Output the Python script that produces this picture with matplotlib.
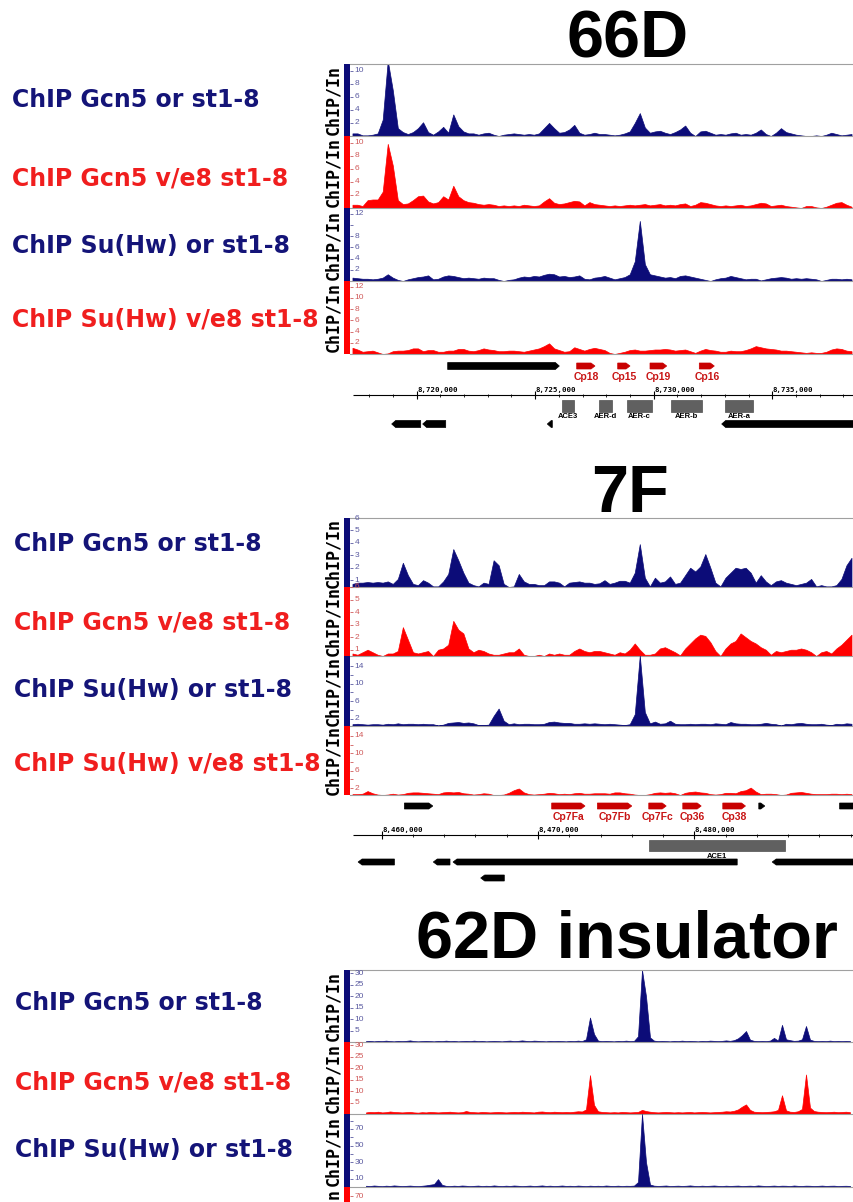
import numpy as np
import matplotlib
matplotlib.use("Agg")
import matplotlib.pyplot as plt
from matplotlib.patches import Polygon, Rectangle

W, H = 854, 1202
NAVY = "#0c0c78"
RED = "#ff0000"
NAVY_TXT = "#141478"
RED_TXT = "#f01e1e"
GENE_RED = "#c80000"

# ---------------- data: 66D (100 bins, ~212 bp each) ----------------
p1_start, p1_step = 8717290, 212.7
p1_xlim = (8717186, 8738451)
p1_gcn5_or = [0.4, 0.4, 0.1, 0.1, 0.2, 0.4, 2.5, 11.5, 7.0, 1.2,
              0.6, 0.3, 0.6, 1.2, 2.1, 0.6, 0.2, 0.7, 1.4, 0.5,
              3.3, 1.5, 0.7, 0.4, 0.4, 0.2, 0.4, 0.5, 0.2, 0.0,
              0.2, 0.3, 0.4, 0.3, 0.2, 0.3, 0.2, 0.4, 1.2, 2.0,
              1.2, 0.5, 0.6, 1.0, 1.7, 0.5, 0.2, 0.3, 0.5, 0.3,
              0.3, 0.2, 0.1, 0.2, 0.4, 0.7, 2.0, 3.5, 1.3, 0.5,
              0.7, 0.8, 0.5, 0.3, 0.6, 1.0, 1.6, 0.5, 0.0, 0.7,
              0.8, 0.5, 0.2, 0.3, 0.2, 0.4, 0.5, 0.2, 0.3, 0.2,
              0.5, 1.0, 0.3, 0.0, 0.5, 1.2, 0.6, 0.4, 0.2, 0.1,
              0.0, 0.0, 0.1, 0.0, 0.2, 0.5, 0.3, 0.1, 0.2, 0.3]
p1_gcn5_ve = [0.5, 0.5, 0.3, 1.2, 1.3, 1.3, 2.5, 9.8, 6.5, 1.2,
              0.6, 0.7, 1.2, 1.8, 1.9, 1.0, 0.7, 0.9, 1.8, 1.3,
              3.4, 1.8, 1.2, 0.9, 0.8, 0.6, 0.5, 0.6, 0.5, 0.3,
              0.4, 0.3, 0.4, 0.3, 0.5, 0.4, 0.3, 0.4, 1.0, 1.5,
              0.8, 0.6, 0.7, 0.9, 1.1, 1.0, 0.4, 0.9, 0.6, 0.5,
              0.4, 0.3, 0.4, 0.3, 0.4, 0.5, 0.4, 0.5, 0.6, 0.4,
              0.5, 0.6, 0.4, 0.5, 0.4, 0.6, 0.7, 0.3, 0.5, 0.9,
              0.8, 0.6, 0.4, 0.3, 0.4, 0.3, 0.4, 0.5, 0.3, 0.4,
              0.6, 0.8, 0.7, 0.3, 0.4, 0.5, 0.3, 0.2, 0.1, 0.0,
              0.3, 0.3, 0.1, 0.0, 0.2, 0.5, 0.8, 0.9, 0.5, 0.2]
p1_suhw_or = [0.6, 0.5, 0.4, 0.4, 0.3, 0.4, 0.6, 1.2, 0.6, 0.2,
              0.0, 0.3, 0.5, 0.7, 0.8, 1.0, 0.3, 0.4, 0.8, 1.0,
              0.9, 0.7, 0.5, 0.6, 0.5, 0.4, 0.6, 0.5, 0.5, 0.2,
              0.0, 0.2, 0.3, 0.6, 0.8, 0.7, 0.9, 0.8, 1.1, 1.3,
              1.2, 0.8, 0.9, 0.7, 0.8, 1.0, 0.4, 0.3, 0.6, 0.7,
              0.9, 0.6, 0.3, 0.5, 0.7, 1.2, 3.5, 10.7, 3.0, 1.2,
              1.0, 0.8, 0.6, 0.7, 0.5, 0.9, 1.0, 0.8, 0.6, 0.4,
              0.2, 0.0, 0.3, 0.5, 0.6, 0.9, 0.7, 0.5, 0.3, 0.4,
              0.4, 0.1, 0.3, 0.5, 0.6, 0.7, 0.6, 0.4, 0.5, 0.4,
              0.5, 0.4, 0.3, 0.0, 0.2, 0.4, 0.4, 0.3, 0.4, 0.3]
p1_suhw_ve = [1.1, 0.8, 0.4, 0.5, 0.6, 0.3, 0.0, 0.1, 0.5, 0.6,
              0.6, 0.7, 1.0, 1.0, 0.5, 0.7, 0.7, 0.4, 0.4, 0.6,
              0.6, 0.9, 0.9, 0.6, 0.5, 0.7, 1.0, 0.8, 0.7, 0.5,
              0.5, 0.6, 0.6, 0.5, 0.4, 0.6, 0.8, 1.0, 1.4, 1.9,
              1.0, 0.7, 0.4, 0.5, 1.2, 0.9, 0.6, 0.9, 1.1, 0.9,
              0.7, 0.2, 0.0, 0.2, 0.4, 0.7, 0.8, 0.6, 0.6, 0.7,
              0.8, 0.8, 0.9, 0.8, 0.6, 0.7, 0.8, 0.5, 0.2, 0.6,
              0.9, 0.7, 0.6, 0.4, 0.4, 0.6, 0.5, 0.5, 0.7, 1.0,
              1.4, 1.2, 1.0, 0.9, 0.8, 0.6, 0.6, 0.5, 0.4, 0.3,
              0.2, 0.3, 0.2, 0.2, 0.4, 0.8, 1.0, 0.9, 0.6, 0.5]

p1_top_black = [(8721308, 8726017, 1)]
p1_cp_names = ["Cp18", "Cp15", "Cp19", "Cp16"]
p1_cp_spans = [(8726751, 8727523), (8728481, 8729000), (8729844, 8730549), (8731924, 8732557)]
p1_box_names = ["ACE3", "AER-d", "AER-c", "AER-b", "AER-a"]
p1_box_spans = [(8726118, 8726637), (8727692, 8728228), (8728886, 8729916),
                (8730717, 8732051), (8733008, 8734203)]
p1_low_black = [(8718945, 8720169, -1), (8720253, 8721224, -1),
                (8725511, 8725722, -1), (8732869, 8739500, -1)]
p1_major = [8720000, 8725000, 8730000, 8735000]

# ---------------- data: 7F (100 bins, ~322 bp each) ----------------
p2_start, p2_step = 8458130, 322.5
p2_xlim = (8457972, 8490218)
p2_gcn5_or = [0.7, 0.8, 0.8, 0.85, 0.8, 0.85, 0.8, 0.9, 0.7, 1.1,
              2.4, 1.4, 0.7, 0.6, 1.0, 0.8, 0.5, 0.5, 0.9, 1.5,
              3.5, 2.6, 1.6, 0.8, 0.6, 0.5, 0.8, 0.7, 2.6, 2.2,
              0.7, 0.45, 0.5, 1.5, 0.9, 0.7, 0.7, 0.6, 0.6, 0.9,
              0.9, 0.8, 0.5, 0.8, 0.85, 0.9, 0.8, 0.8, 0.7, 0.75,
              1.0, 0.7, 0.8, 0.95, 0.95, 0.8, 1.6, 3.9, 1.2, 0.5,
              1.2, 0.8, 0.9, 1.3, 0.7, 0.8, 1.4, 2.0, 1.7, 2.1,
              3.1, 2.0, 0.8, 0.5, 1.2, 1.6, 2.0, 1.9, 2.0, 1.6,
              0.8, 1.4, 0.9, 0.6, 0.9, 1.0, 0.8, 0.7, 0.6, 0.7,
              0.8, 1.1, 0.5, 0.6, 0.5, 0.5, 0.6, 1.1, 2.2, 2.8]
p2_gcn5_ve = [0.7, 0.6, 0.8, 1.0, 0.8, 0.6, 0.5, 0.7, 0.7, 0.9,
              2.8, 1.8, 0.8, 0.7, 0.8, 0.9, 0.5, 1.0, 1.1, 1.4,
              3.3, 2.6, 2.3, 1.1, 0.8, 1.0, 0.9, 0.7, 0.6, 0.6,
              0.7, 0.8, 0.8, 1.1, 0.6, 0.5, 0.5, 0.6, 0.5, 0.7,
              0.6, 0.7, 0.6, 0.6, 0.9, 1.1, 0.9, 0.8, 0.9, 0.9,
              0.8, 0.7, 0.6, 0.8, 0.7, 1.0, 1.5, 1.0, 0.6, 0.6,
              0.7, 1.1, 1.2, 1.0, 0.8, 0.55, 1.1, 1.5, 1.9, 2.2,
              2.1, 1.6, 0.9, 0.5, 1.1, 1.5, 1.7, 2.3, 2.0, 1.7,
              1.5, 1.2, 1.0, 0.6, 0.9, 0.8, 0.9, 1.0, 1.0, 1.1,
              1.0, 0.8, 0.5, 0.8, 0.9, 0.7, 1.1, 1.4, 1.8, 2.2]
p2_suhw_or = [0.7, 0.8, 0.7, 0.6, 0.7, 0.7, 0.6, 0.8, 0.7, 0.9,
              0.7, 0.8, 0.8, 0.7, 0.8, 0.7, 0.7, 0.4, 0.6, 1.0,
              1.1, 1.2, 1.0, 1.1, 0.9, 0.5, 0.5, 0.6, 2.6, 4.3,
              1.5, 0.7, 0.9, 0.7, 0.8, 0.8, 0.7, 0.7, 0.8, 1.2,
              1.3, 1.1, 1.0, 1.0, 0.8, 0.8, 0.9, 0.8, 0.9, 0.8,
              0.7, 0.8, 0.7, 0.6, 0.5, 0.7, 3.0, 16.5, 3.5, 0.9,
              1.3, 0.8, 0.9, 1.5, 0.8, 0.7, 0.7, 0.8, 0.7, 0.8,
              0.8, 0.7, 0.9, 0.8, 0.7, 1.2, 0.9, 0.8, 0.8, 0.7,
              0.7, 0.8, 1.0, 0.8, 0.7, 0.4, 0.8, 0.7, 0.9, 1.0,
              0.8, 0.7, 0.7, 0.8, 0.6, 0.5, 0.8, 0.7, 0.9, 0.8]
p2_suhw_ve = [0.6, 0.6, 0.7, 1.3, 0.8, 0.5, 0.4, 0.5, 0.7, 0.5,
              0.6, 0.9, 1.0, 1.0, 0.9, 0.8, 0.7, 0.6, 1.0, 1.1,
              1.0, 1.1, 0.8, 0.7, 0.5, 0.6, 0.8, 0.7, 0.4, 0.4,
              0.5, 0.9, 1.5, 1.9, 1.0, 0.6, 0.5, 0.6, 0.7, 0.9,
              0.8, 0.6, 0.7, 0.6, 0.8, 0.9, 0.7, 0.7, 0.8, 0.8,
              0.8, 0.7, 1.0, 1.0, 0.8, 0.7, 0.5, 0.4, 0.4, 0.6,
              0.9, 1.0, 0.9, 1.0, 0.8, 0.4, 0.9, 1.1, 1.2, 1.0,
              0.9, 0.6, 0.5, 0.6, 0.9, 0.9, 0.8, 1.3, 1.5, 2.1,
              1.2, 0.6, 0.7, 0.7, 0.6, 0.4, 0.5, 0.9, 1.0, 1.1,
              0.9, 0.7, 0.6, 0.6, 0.6, 0.7, 0.7, 0.6, 0.7, 0.6]

p2_top_black = [(8461453, 8463269, 1), (8484127, 8484511, 1), (8489299, 8491000, 1)]
p2_cp_names = ["Cp7Fa", "Cp7Fb", "Cp7Fc", "Cp36", "Cp38"]
p2_cp_spans = [(8470876, 8473008), (8473800, 8476000), (8477087, 8478202),
               (8479264, 8480441), (8481823, 8483275)]
p2_box_names = ["ACE1"]
p2_box_spans = [(8477101, 8485783)]
p2_low_black = [(8458490, 8460813, -1), (8463301, 8464370, -1),
                (8464565, 8482745, -1), (8484984, 8491500, -1)]
p2_low2_black = [(8466334, 8467844, -1)]
p2_major = [8460000, 8470000, 8480000]

# ---------------- data: 62D insulator (122 bins) ----------------
p3_gcn5_or = [0.4, 0.5, 0.3, 0.5, 0.4, 0.6, 0.4, 0.3, 0.5, 0.4,
              0.5, 0.7, 0.4, 0.3, 0.4, 0.5, 0.4, 0.3, 0.5, 0.4,
              0.6, 0.4, 0.5, 0.3, 0.4, 0.5, 0.4, 0.6, 0.4, 0.5,
              0.3, 0.4, 0.5, 0.4, 0.3, 0.5, 0.6, 0.4, 0.5, 0.7,
              0.5, 0.4, 0.6, 0.5, 0.4, 0.3, 0.5, 0.4, 0.5, 0.4,
              0.3, 0.5, 0.4, 0.6, 0.4, 1.2, 10.7, 3.5, 0.6, 0.4,
              0.5, 0.4, 0.3, 0.5, 0.4, 0.6, 0.4, 0.5, 2.5, 31.5,
              20.0, 2.0, 0.6, 0.4, 0.5, 0.4, 0.3, 0.5, 0.4, 0.6,
              0.4, 0.5, 0.4, 0.3, 0.5, 0.4, 0.6, 0.5, 0.4, 0.5,
              0.7, 0.5, 0.8, 1.6, 3.0, 4.8, 1.0, 0.5, 0.4, 0.5,
              0.4, 0.6, 1.8, 0.6, 7.5, 1.2, 0.8, 0.5, 0.6, 1.2,
              7.0, 1.0, 0.5, 0.4, 0.5, 0.4, 0.6, 0.4, 0.5, 0.4,
              0.5, 0.4]
p3_gcn5_ve = [0.7, 0.9, 0.8, 1.0, 0.7, 0.8, 1.1, 0.9, 0.8, 0.7,
              0.8, 0.9, 0.7, 0.6, 0.8, 0.7, 0.9, 0.8, 0.7, 0.8,
              0.9, 1.0, 0.8, 0.7, 0.8, 1.3, 0.9, 0.8, 0.7, 0.9,
              0.8, 0.7, 0.8, 0.9, 0.8, 0.7, 0.8, 0.9, 0.8, 1.0,
              0.9, 0.8, 0.7, 1.0, 1.1, 0.9, 0.8, 1.0, 0.9, 0.8,
              0.9, 0.8, 1.0, 1.2, 1.1, 2.0, 17.0, 4.0, 1.2, 0.9,
              0.8, 0.7, 0.8, 0.7, 0.9, 0.8, 0.7, 0.8, 0.9, 1.8,
              1.3, 1.0, 0.8, 0.7, 0.8, 0.9, 0.8, 0.7, 0.8, 0.7,
              0.8, 0.9, 0.7, 0.8, 0.9, 0.8, 0.7, 0.8, 0.9, 1.0,
              1.2, 1.1, 1.4, 2.0, 3.2, 4.2, 1.8, 1.0, 0.9, 0.8,
              0.9, 1.0, 1.2, 1.8, 8.2, 1.6, 1.0, 0.9, 1.2, 2.2,
              17.3, 2.8, 1.3, 1.0, 0.9, 0.8, 0.9, 1.0, 0.8, 0.9,
              1.0, 0.8]
p3_suhw_or = [1.5, 1.2, 1.8, 1.4, 1.0, 1.6, 1.3, 1.9, 1.5, 1.2,
              1.4, 1.7, 1.3, 1.1, 1.5, 2.0, 2.8, 3.5, 9.5, 2.6,
              1.4, 1.2, 1.6, 1.3, 1.8, 1.5, 1.1, 1.4, 1.7, 1.2,
              1.5, 1.3, 1.9, 1.4, 1.2, 1.6, 1.3, 1.8, 1.5, 1.1,
              1.4, 1.7, 1.2, 1.5, 1.9, 1.3, 1.6, 1.2, 1.4, 1.8,
              1.3, 1.5, 1.2, 1.7, 1.4, 1.1, 1.6, 1.3, 1.5, 1.2,
              1.8, 1.4, 1.3, 1.6, 1.2, 1.5, 1.4, 1.7, 6.0, 88.0,
              30.0, 3.0, 1.6, 1.3, 1.5, 1.8, 1.2, 1.4, 1.6, 1.3,
              1.5, 1.9, 1.4, 1.2, 1.6, 1.3, 1.5, 1.8, 1.4, 1.2,
              1.6, 1.3, 1.5, 1.7, 1.2, 1.4, 1.6, 1.3, 1.9, 1.5,
              1.2, 1.4, 1.7, 1.3, 1.6, 1.5, 1.2, 1.8, 1.4, 1.3,
              1.6, 1.5, 1.2, 1.4, 1.7, 1.3, 1.5, 1.6, 1.2, 1.4,
              1.5, 1.3]
p3_xlim = (-4, 122)

labels = ["ChIP Gcn5 or st1-8", "ChIP Gcn5 v/e8 st1-8",
          "ChIP Su(Hw) or st1-8", "ChIP Su(Hw) v/e8 st1-8"]
label_colors = [NAVY_TXT, RED_TXT, NAVY_TXT, RED_TXT]
track_colors = [NAVY, RED, NAVY, RED]

fig = plt.figure(figsize=(W / 100, H / 100), dpi=100)


def px_axes(x0, y0, x1, y1):
    return fig.add_axes([x0 / W, 1 - y1 / H, (x1 - x0) / W, (y1 - y0) / H])


def draw_track(top, bottom, x, vals, color, ylim, ticks, ticklabels, xlim, first):
    bar = px_axes(344, top, 350, bottom)
    bar.set_facecolor(color)
    bar.set_xticks([])
    bar.set_yticks([])
    for s in bar.spines.values():
        s.set_visible(False)

    ax = px_axes(350, top, 854, bottom)
    if vals is not None:
        ax.fill_between(x, ylim[0], vals, facecolor=color, edgecolor=color, lw=0.5)
    ax.set_xlim(xlim)
    ax.set_ylim(ylim)
    ax.set_xticks([])
    ax.set_yticks(ticks)
    lab_color = "#5a5aa0" if color == NAVY else "#d05a5a"
    ax.tick_params(axis="y", direction="in", length=2.5, width=0.6,
                   color=lab_color, labelleft=False)
    for t, lab in zip(ticks, ticklabels):
        if lab:
            ax.text(0.009, t, lab, transform=ax.get_yaxis_transform(), fontsize=6,
                    family="Liberation Sans", color=lab_color, ha="left", va="center")
    ax.spines["left"].set_visible(False)
    ax.spines["right"].set_visible(False)
    ax.spines["top"].set_visible(first)
    ax.spines["top"].set_color("#a0a0a0")
    ax.spines["bottom"].set_color("#a0a0a0")
    ax.spines["bottom"].set_linewidth(0.8)
    ax.patch.set_alpha(0)

    fig.text(333.5 / W, 1 - (top + bottom) / 2 / H, "ChIP/In", rotation=90,
             fontsize=12, family="DejaVu Sans Mono", fontweight="bold",
             ha="center", va="center")


def side_label(x, y, s, color):
    fig.text(x / W, 1 - y / H, s, color=color, fontsize=17, fontweight="bold",
             family="DejaVu Sans", ha="left", va="center")


def title(x, y, s):
    fig.text(x / W, 1 - y / H, s, fontsize=48, fontweight="bold",
             family="Liberation Sans", ha="center", va="baseline")


def gene(ax, start, end, y, h, strand, color, head):
    head = min(head, end - start)
    if strand > 0:
        pts = [(start, y - h / 2), (end - head, y - h / 2), (end, y),
               (end - head, y + h / 2), (start, y + h / 2)]
    else:
        pts = [(end, y - h / 2), (start + head, y - h / 2), (start, y),
               (start + head, y + h / 2), (end, y + h / 2)]
    ax.add_patch(Polygon(pts, closed=True, fc=color, ec=color, lw=0.5))


def ruler(ax, y, xlim, major, minor_step, px_per_bp, label_y):
    x0 = xlim[0] + 3 / px_per_bp
    ax.hlines(y, x0, xlim[1], color="black", lw=0.8)
    minors = np.arange(np.ceil(x0 / minor_step) * minor_step, xlim[1], minor_step)
    ax.vlines(minors, y - 1.5, y + 1.5, color="black", lw=0.6)
    ax.vlines(major, y - 4, y + 4, color="black", lw=0.8)
    for m in major:
        ax.text(m + 0.5 / px_per_bp, label_y, f"{m:,}", fontsize=5.3,
                family="DejaVu Sans Mono", fontweight="bold", ha="left", va="bottom")


def gene_axes(top, bottom, xlim):
    ax = px_axes(350, top, 854, bottom)
    ax.set_xlim(xlim)
    ax.set_ylim(bottom, top)
    ax.axis("off")
    return ax


# ---------------- panel 1: 66D ----------------
title(628, 57, "66D")
edges = [64, 136, 208, 281, 354]
p1_tracks = [p1_gcn5_or, p1_gcn5_ve, p1_suhw_or, p1_suhw_ve]
p1_ylims = [(0, 11), (0, 11), (0, 13), (0, 13)]
p1_ticks = [[2, 4, 6, 8, 10], [2, 4, 6, 8, 10], [2, 4, 6, 8, 10, 12], [2, 4, 6, 8, 10, 12]]
p1_ticklabels = [["2", "4", "6", "8", "10"], ["2", "4", "6", "8", "10"],
                 ["2", "4", "6", "8", "", "12"], ["2", "4", "6", "8", "10", "12"]]
for i in range(4):
    x = p1_start + p1_step * np.arange(len(p1_tracks[i]))
    draw_track(edges[i], edges[i + 1], x, p1_tracks[i], track_colors[i], p1_ylims[i],
               p1_ticks[i], p1_ticklabels[i], p1_xlim, i == 0)
for y, s, c in zip([100, 179, 246, 320], labels, label_colors):
    side_label(12, y, s, c)

g1 = gene_axes(356, 432, p1_xlim)
ppb1 = 504 / (p1_xlim[1] - p1_xlim[0])
for s, e, d in p1_top_black:
    gene(g1, s, e, 366, 7, d, "black", 4 / ppb1)
for name, (s, e) in zip(p1_cp_names, p1_cp_spans):
    gene(g1, s, e, 366, 6, 1, GENE_RED, 4 / ppb1)
    g1.text((s + e) / 2, 377.5, name, fontsize=7.5, fontweight="bold", family="Liberation Sans",
            color="#c81414", ha="center", va="center")
ruler(g1, 395, p1_xlim, p1_major, 1000, ppb1, 393)
for name, (s, e) in zip(p1_box_names, p1_box_spans):
    g1.add_patch(Rectangle((s, 400), e - s, 12, fc="#606060", ec="#505050", lw=0.5))
    g1.text((s + e) / 2, 417, name, fontsize=5.5, fontweight="bold", family="Liberation Sans",
            ha="center", va="center")
for s, e, d in p1_low_black:
    gene(g1, s, e, 424, 7, d, "black", 4 / ppb1)

# ---------------- panel 2: 7F ----------------
title(630, 512, "7F")
edges = [518, 587, 656, 725.5, 795]
p2_tracks = [p2_gcn5_or, p2_gcn5_ve, p2_suhw_or, p2_suhw_ve]
p2_ylims = [(0.45, 6.0), (0.5, 6.0), (0.4, 16.4), (0.4, 16.4)]
p2_ticks = [[1, 2, 3, 4, 5, 6], [1, 2, 3, 4, 5, 6],
            [2, 4, 6, 8, 10, 12, 14], [2, 4, 6, 8, 10, 12, 14]]
p2_ticklabels = [["1", "2", "3", "4", "5", "6"], ["1", "2", "3", "4", "5", "6"],
                 ["2", "", "6", "", "10", "", "14"], ["2", "", "6", "", "10", "", "14"]]
for i in range(4):
    x = p2_start + p2_step * np.arange(len(p2_tracks[i]))
    draw_track(edges[i], edges[i + 1], x, p2_tracks[i], track_colors[i], p2_ylims[i],
               p2_ticks[i], p2_ticklabels[i], p2_xlim, i == 0)
for y, s, c in zip([544, 622, 690, 764], labels, label_colors):
    side_label(14, y, s, c)

g2 = gene_axes(798, 885, p2_xlim)
ppb2 = 504 / (p2_xlim[1] - p2_xlim[0])
for s, e, d in p2_top_black:
    gene(g2, s, e, 806, 6, d, "black", 4 / ppb2)
for name, (s, e) in zip(p2_cp_names, p2_cp_spans):
    gene(g2, s, e, 806, 6, 1, GENE_RED, 4 / ppb2)
    g2.text((s + e) / 2, 817.5, name, fontsize=7.5, fontweight="bold", family="Liberation Sans",
            color="#c81414", ha="center", va="center")
ruler(g2, 835, p2_xlim, p2_major, 2000, ppb2, 833)
for name, (s, e) in zip(p2_box_names, p2_box_spans):
    g2.add_patch(Rectangle((s, 839.5), e - s, 11.5, fc="#606060", ec="#505050", lw=0.5))
    g2.text((s + e) / 2, 856, name, fontsize=5.5, fontweight="bold", family="Liberation Sans",
            ha="center", va="center")
for s, e, d in p2_low_black:
    gene(g2, s, e, 862, 6, d, "black", 4 / ppb2)
for s, e, d in p2_low2_black:
    gene(g2, s, e, 878, 6, d, "black", 4 / ppb2)

# ---------------- panel 3: 62D insulator ----------------
title(627, 957, "62D insulator")
edges = [970, 1042, 1114, 1187, 1259]
p3_tracks = [p3_gcn5_or, p3_gcn5_ve, p3_suhw_or, None]
p3_ylims = [(0, 31.5), (0, 31.5), (0, 88), (0, 80)]
big_ticks = [10, 20, 30, 40, 50, 60, 70, 80]
p3_ticks = [[5, 10, 15, 20, 25, 30], [5, 10, 15, 20, 25, 30], big_ticks, [70]]
p3_ticklabels = [["5", "10", "15", "20", "25", "30"], ["5", "10", "15", "20", "25", "30"],
                 ["10", "", "30", "", "50", "", "70", ""], ["70"]]
for i in range(4):
    vals = p3_tracks[i]
    x = np.arange(len(vals)) if vals is not None else None
    draw_track(edges[i], edges[i + 1], x, vals, track_colors[i], p3_ylims[i],
               p3_ticks[i], p3_ticklabels[i], p3_xlim, i == 0)
for y, s, c in zip([1003, 1082, 1150], labels[:3], label_colors[:3]):
    side_label(15, y, s, c)

fig.savefig("out.png", dpi=100)
